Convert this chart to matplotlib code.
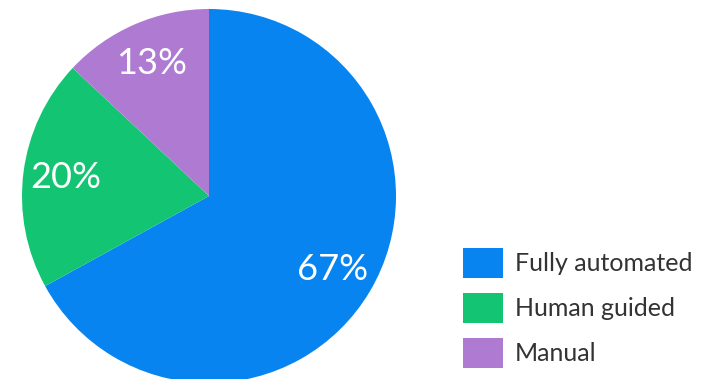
import matplotlib
matplotlib.use("Agg")
import matplotlib.pyplot as plt

categories = ["Fully automated", "Human guided", "Manual"]
shares = [67, 20, 13]
colors = ["#0784F0", "#13C572", "#AE7AD2"]

W, H = 704, 379
fig = plt.figure(figsize=(W / 100, H / 100), dpi=100)
fig.patch.set_facecolor("white")

cx, cy, r = 209, 196, 187
ax = fig.add_axes([(cx - r) / W, (H - cy - r) / H, 2 * r / W, 2 * r / H])
wedges, texts = ax.pie(
    shares,
    colors=colors,
    startangle=90,
    counterclock=False,
    labels=[f"{v}%" for v in shares],
    labeldistance=0.77,
    textprops=dict(color="white", fontsize=26, family="Lato", ha="center", va="center"),
    wedgeprops=dict(linewidth=0),
)
ax.set_xlim(-1, 1)
ax.set_ylim(-1, 1)
ax.set_aspect("equal")
ax.axis("off")

fs = 18
px = fs * 100 / 72
fig.legend(
    wedges, categories,
    loc="upper left",
    bbox_to_anchor=(463 / W, 1 - 248 / H),
    frameon=False,
    prop=dict(family="Lato", size=fs),
    labelcolor="#333333",
    handlelength=40 / px,
    handleheight=1.47,
    handletextpad=12 / px,
    labelspacing=15 / px,
    borderpad=0,
    borderaxespad=0,
)

fig.savefig("out.png", dpi=100, facecolor="white")
